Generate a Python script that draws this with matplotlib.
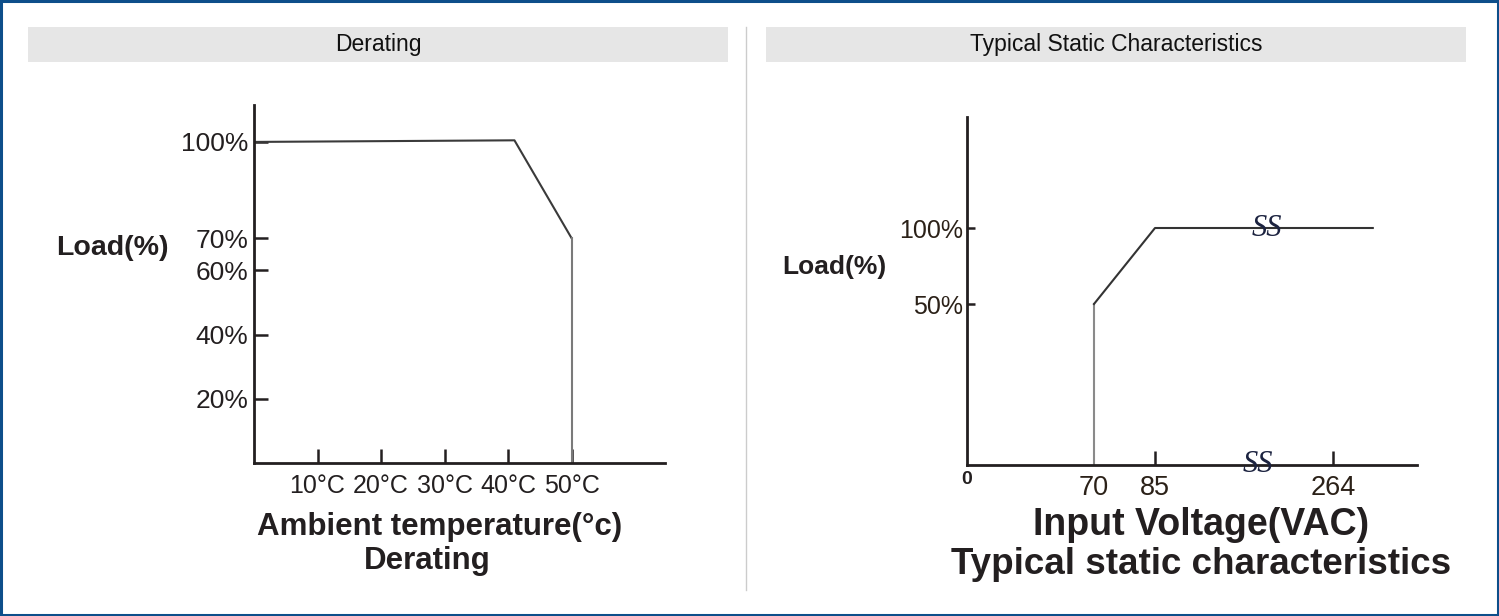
import numpy as np
import matplotlib
matplotlib.use("Agg")
from matplotlib import pyplot as plt
from matplotlib.patches import Rectangle
from matplotlib.lines import Line2D

plt.rcParams['font.family'] = ['Liberation Sans', 'DejaVu Sans']

# derating curve
temp = [0, 41, 50, 50]
load_derate = [100, 100.5, 70, 0]
temp_ticks = [10, 20, 30, 40, 50]
temp_labels = ["10°C", "20°C", "30°C", "40°C", "50°C"]
derate_ticks = [20, 40, 60, 70, 100]
derate_labels = ["20%", "40%", "60%", "70%", "100%"]

# static characteristics
volt = [70, 70, 85, 300]
load_static = [0, 50, 100, 100]
volt_ticks = [70, 85, 264]
volt_labels = ["70", "85", "264"]
static_ticks = [50, 100]
static_labels = ["50%", "100%"]

W, H = 1499, 616

def fx(px):
    return px / W

def fy(py):
    return 1 - py / H

def rect(x0, y0, x1, y1):
    return [fx(x0), fy(y1), (x1 - x0) / W, (y1 - y0) / H]

fig = plt.figure(figsize=(W / 100, H / 100), dpi=100)
fig.patch.set_facecolor("white")

# outer frame and divider
fig.add_artist(Rectangle((0.001, 0.002), 0.998, 0.996, transform=fig.transFigure,
                         fill=False, edgecolor="#0d4e8a", lw=2.2))
fig.add_artist(Line2D([fx(746), fx(746)], [fy(27), fy(590)], transform=fig.transFigure,
                      color="#cccccc", lw=1))

# header bands
for x0, x1, title in [(28, 728, "Derating"), (766, 1466, "Typical Static Characteristics")]:
    fig.add_artist(Rectangle((fx(x0), fy(62)), (x1 - x0) / W, 35 / H,
                             transform=fig.transFigure, facecolor="#e6e6e6", edgecolor="none"))
    fig.text(fx((x0 + x1) / 2), fy(45), title, ha="center", va="center",
             fontsize=16.5, color="#111111")

dark = "#231f20"

# ---- left: derating
ax1 = fig.add_axes(rect(254, 105, 665, 463))
ax1.plot(temp[:3], load_derate[:3], color="#3a3a3a", lw=1.5)
ax1.plot(temp[2:], load_derate[2:], color="#7a7a7a", lw=1.5)
ax1.set_xlim(0, 64.7)
ax1.set_ylim(0, 111.5)
for s in ["top", "right"]:
    ax1.spines[s].set_visible(False)
for s in ["left", "bottom"]:
    ax1.spines[s].set_linewidth(2)
    ax1.spines[s].set_color(dark)
ax1.set_xticks(temp_ticks, temp_labels)
ax1.set_yticks(derate_ticks, derate_labels)
ax1.tick_params(axis="both", direction="in", length=10, width=1.8, color=dark,
                labelcolor=dark)
ax1.tick_params(axis="x", pad=8, labelsize=18)
ax1.tick_params(axis="y", pad=4, labelsize=19)

fig.text(fx(112), fy(248), "Load(%)", ha="center", va="center", fontsize=20.5,
         fontweight="bold", color=dark)
fig.text(fx(440), fy(527), "Ambient temperature(°c)", ha="center", va="center",
         fontsize=22.5, fontweight="bold", color=dark)
fig.text(fx(427), fy(561), "Derating", ha="center", va="center",
         fontsize=22.5, fontweight="bold", color=dark)

# ---- right: static characteristics (broken axes)
volt_knots = [0, 70, 85, 264, 340]
volt_pos = [0, 127, 188, 366, 450]
load_knots = [0, 50, 100, 173]
load_pos = [0, 161, 237, 348]

ax2 = fig.add_axes(rect(967, 117, 1417, 465))
ax2.set_xscale("function", functions=(lambda v: np.interp(v, volt_knots, volt_pos),
                                      lambda p: np.interp(p, volt_pos, volt_knots)))
ax2.set_yscale("function", functions=(lambda v: np.interp(v, load_knots, load_pos),
                                      lambda p: np.interp(p, load_pos, load_knots)))
ax2.plot(volt[:2], load_static[:2], color="#8a8a8a", lw=1.5)
ax2.plot(volt[1:], load_static[1:], color="#333333", lw=1.5)
ax2.set_xlim(0, 340)
ax2.set_ylim(0, 173)
for s in ["top", "right"]:
    ax2.spines[s].set_visible(False)
for s in ["left", "bottom"]:
    ax2.spines[s].set_linewidth(2)
    ax2.spines[s].set_color(dark)
ax2.set_xticks(volt_ticks, volt_labels)
ax2.set_yticks(static_ticks, static_labels)
ax2.xaxis.set_minor_locator(matplotlib.ticker.NullLocator())
ax2.yaxis.set_minor_locator(matplotlib.ticker.NullLocator())
ax2.tick_params(axis="x", direction="in", length=10, width=1.8, color=dark,
                labelsize=19.5, labelcolor="#2b2118", pad=7)
ax2.tick_params(axis="y", direction="in", length=6, width=1.8, color=dark,
                labelsize=18, labelcolor="#2b2118", pad=3)
ax2.xaxis.get_major_ticks()[0].tick1line.set_visible(False)

ax2.text(198, 100, "SS", ha="center", va="center", fontsize=22, style="italic",
         family="Liberation Serif", color="#1c2340")
ax2.text(188, 0, "SS", ha="center", va="center", fontsize=22, style="italic",
         family="Liberation Serif", color="#1c2340", clip_on=False)
fig.text(fx(967), fy(479), "0", ha="center", va="center", fontsize=14,
         fontweight="bold", color=dark)

fig.text(fx(834), fy(267), "Load(%)", ha="center", va="center", fontsize=19,
         fontweight="bold", color=dark)
fig.text(fx(1201), fy(525), "Input Voltage(VAC)", ha="center", va="center",
         fontsize=27, fontweight="bold", color=dark)
fig.text(fx(1201), fy(565), "Typical static characteristics", ha="center", va="center",
         fontsize=26.5, fontweight="bold", color=dark)

fig.savefig("out.png", dpi=100)
